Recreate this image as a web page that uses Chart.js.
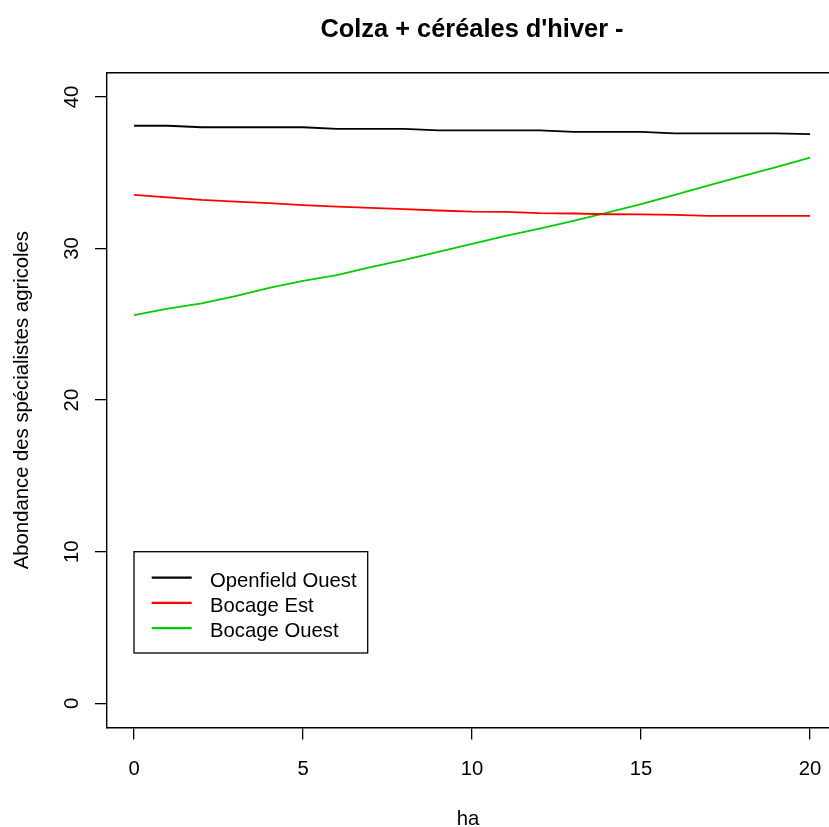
<!DOCTYPE html>
<html>
<head>
<meta charset="utf-8">
<style>
  html, body { margin: 0; padding: 0; background: #fff; overflow: hidden; }
  #chart { display: block; }
</style>
<script src="https://cdn.jsdelivr.net/npm/chart.js@4.4.0/dist/chart.umd.min.js"></script>
<script>
// surface (ha) on the x axis
var surfaces = [0, 1, 2, 3, 4, 5, 6, 7, 8, 9, 10, 11, 12, 13, 14, 15, 16, 17, 18, 19, 20];

// abundance per region
var openfieldOuest = [38.1, 38.1, 38.0, 38.0, 38.0, 38.0, 37.9, 37.9, 37.9, 37.8, 37.8,
                      37.8, 37.8, 37.7, 37.7, 37.7, 37.6, 37.6, 37.6, 37.6, 37.55];
var bocageEst      = [33.54, 33.37, 33.21, 33.10, 32.99, 32.86, 32.77, 32.68, 32.60, 32.51, 32.43,
                      32.42, 32.33, 32.31, 32.26, 32.25, 32.22, 32.15, 32.15, 32.15, 32.15];
var bocageOuest    = [25.61, 26.03, 26.38, 26.86, 27.41, 27.86, 28.25, 28.78, 29.25, 29.78, 30.30,
                      30.83, 31.32, 31.82, 32.37, 32.93, 33.54, 34.16, 34.78, 35.37, 35.99];

var seriesNames = ["Openfield Ouest", "Bocage Est", "Bocage Ouest"];
var xTicks = [0, 5, 10, 15, 20];
var yTicks = [0, 10, 20, 30, 40];

var chartTitle = "Colza + céréales d'hiver -";
var xTitle = "ha";
var yTitle = "Abondance des spécialistes agricoles";
</script>
</head>
<body>
<canvas id="chart" width="829" height="827"></canvas>
<script>
var FONT = "'Liberation Sans', Arial, Helvetica, sans-serif";

function toPoints(ys) {
  return surfaces.map(function (x, i) { return { x: x, y: ys[i] }; });
}

// R-like extras: title, top of the box, rotated y labels and the legend box
var rStyle = {
  id: 'rStyle',
  afterDraw: function (chart) {
    var ctx = chart.ctx;
    var area = chart.chartArea;
    var yScale = chart.scales.y;

    ctx.save();
    ctx.fillStyle = '#000';
    ctx.strokeStyle = '#000';

    // main title
    ctx.font = 'bold 25.4px ' + FONT;
    ctx.textAlign = 'center';
    ctx.textBaseline = 'alphabetic';
    ctx.fillText(chartTitle, 472, 37);

    // top edge of the box
    ctx.lineWidth = 1.4;
    ctx.beginPath();
    ctx.moveTo(area.left, area.top);
    ctx.lineTo(area.right, area.top);
    ctx.stroke();

    // y tick labels, vertical as in R
    ctx.font = '20.3px ' + FONT;
    yScale.ticks.forEach(function (t) {
      var py = yScale.getPixelForValue(t.value);
      ctx.save();
      ctx.translate(78, py);
      ctx.rotate(-Math.PI / 2);
      ctx.textAlign = 'center';
      ctx.textBaseline = 'alphabetic';
      ctx.fillText(t.label, 0, 0);
      ctx.restore();
    });

    // legend
    var bx = 134, by = 551.7, bw = 233.7, bh = 101.3;
    ctx.lineWidth = 1.3;
    ctx.strokeRect(bx, by, bw, bh);
    chart.data.datasets.forEach(function (ds, i) {
      var ry = 577.7 + i * 25.2;
      ctx.strokeStyle = ds.borderColor;
      ctx.lineWidth = 2.2;
      ctx.beginPath();
      ctx.moveTo(151.7, ry);
      ctx.lineTo(191.7, ry);
      ctx.stroke();
      ctx.fillStyle = '#000';
      ctx.textAlign = 'left';
      ctx.textBaseline = 'alphabetic';
      ctx.fillText(ds.label, 210, ry + 9);
    });

    ctx.restore();
  }
};

var chart = new Chart(document.getElementById('chart'), {
  type: 'line',
  data: {
    datasets: [{
      label: seriesNames[0],
      data: toPoints(openfieldOuest),
      borderColor: '#000000',
      borderWidth: 1.8,
      pointRadius: 0,
      tension: 0
    }, {
      label: seriesNames[1],
      data: toPoints(bocageEst),
      borderColor: '#FF0000',
      borderWidth: 1.8,
      pointRadius: 0,
      tension: 0
    }, {
      label: seriesNames[2],
      data: toPoints(bocageOuest),
      borderColor: '#00CD00',
      borderWidth: 1.8,
      pointRadius: 0,
      tension: 0
    }]
  },
  options: {
    responsive: false,
    animation: false,
    events: [],
    layout: { padding: { top: 72.7, right: 0, bottom: 0, left: 0 } },
    plugins: {
      legend: { display: false },
      title: { display: false },
      tooltip: { enabled: false }
    },
    scales: {
      x: {
        type: 'linear',
        min: -0.8,
        max: 20.56,
        afterBuildTicks: function (scale) {
          scale.ticks = xTicks.map(function (v) { return { value: v }; });
        },
        afterFit: function (scale) {
          scale.height = 99.5;
          scale.paddingLeft = 0;
          scale.paddingRight = 0;
        },
        grid: {
          display: true,
          drawOnChartArea: false,
          drawTicks: true,
          tickLength: 12,
          color: '#000',
          lineWidth: 1.3
        },
        border: { display: true, color: '#000', width: 1.4 },
        ticks: {
          color: '#000',
          padding: 18,
          maxRotation: 0,
          font: { family: FONT, size: 20.3 }
        },
        title: {
          display: true,
          text: xTitle,
          color: '#000',
          font: { family: FONT, size: 20.3, lineHeight: 1 },
          padding: { top: 0, bottom: -3 }
        }
      },
      y: {
        type: 'linear',
        min: -1.6,
        max: 41.6,
        afterBuildTicks: function (scale) {
          scale.ticks = yTicks.map(function (v) { return { value: v }; });
        },
        afterFit: function (scale) {
          scale.width = 107;
          scale.paddingTop = 0;
          scale.paddingBottom = 0;
        },
        grid: {
          display: true,
          drawOnChartArea: false,
          drawTicks: true,
          tickLength: 12,
          color: '#000',
          lineWidth: 1.3
        },
        border: { display: true, color: '#000', width: 1.4 },
        ticks: { display: false },
        title: {
          display: true,
          text: yTitle,
          color: '#000',
          font: { family: FONT, size: 20.3, lineHeight: 1 },
          padding: { top: 12, bottom: 0 }
        }
      }
    }
  },
  plugins: [rStyle]
});
</script>
</body>
</html>
